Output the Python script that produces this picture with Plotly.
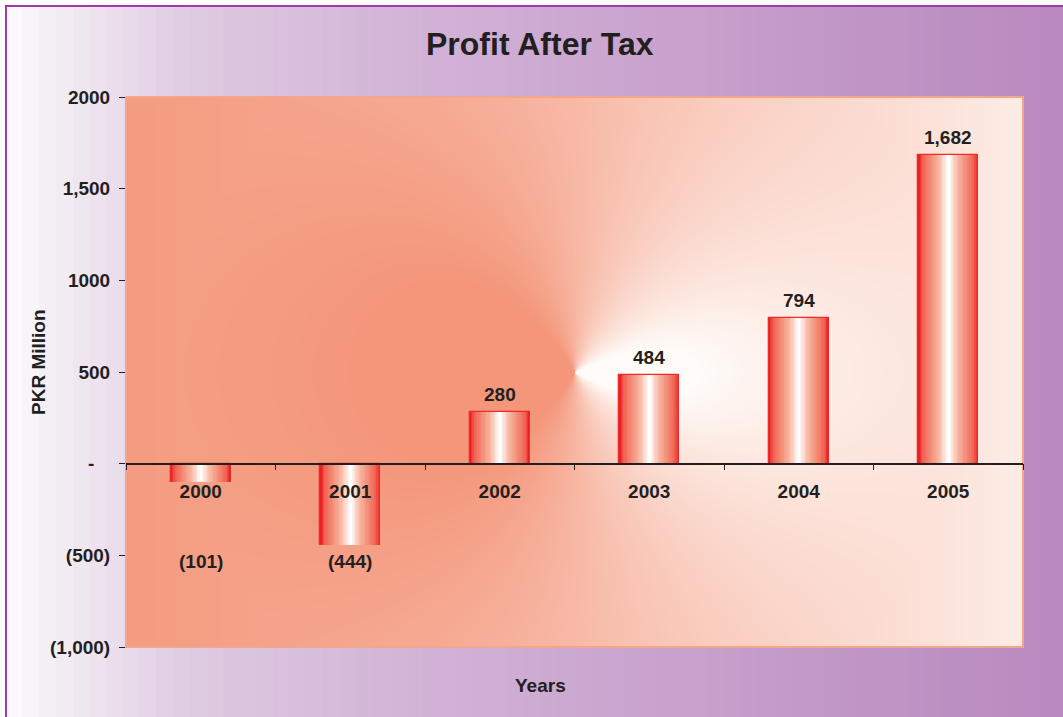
import base64
import struct
import zlib

import numpy as np
import plotly.graph_objects as go

# ---------------- data ----------------
years = ["2000", "2001", "2002", "2003", "2004", "2005"]
profit = [-101, -444, 280, 484, 794, 1682]
value_labels = ["(101)", "(444)", "280", "484", "794", "1,682"]
ytick_vals = [-1000, -500, 0, 500, 1000, 1500, 2000]
ytick_text = ["(1,000)", "(500)", "-\u00a0\u00a0\u00a0", "500", "1000", "1,500", "2000"]

# ---------------- geometry ----------------
W, H = 1063, 717
ML, MR, MT, MB = 126, 40, 97, 70
PW, PH = W - ML - MR, H - MT - MB
FONT = "Liberation Sans, Arial, Helvetica, sans-serif"
INK = "#231f20"


def png_uri(arr):
    arr = np.ascontiguousarray(arr.astype(np.uint8))
    h, w, _ = arr.shape
    a = arr.astype(np.int16)
    d = a.copy()
    d[:, 1:, :] = a[:, 1:, :] - a[:, :-1, :]
    d = (d % 256).astype(np.uint8).reshape(h, w * 3)
    rows = np.concatenate([np.ones((h, 1), np.uint8), d], axis=1)
    comp = zlib.compress(rows.tobytes(), 9)

    def chunk(t, data):
        return struct.pack(">I", len(data)) + t + data + struct.pack(">I", zlib.crc32(t + data) & 0xFFFFFFFF)

    png = (b"\x89PNG\r\n\x1a\n" + chunk(b"IHDR", struct.pack(">IIBBBBB", w, h, 8, 2, 0, 0, 0))
           + chunk(b"IDAT", comp) + chunk(b"IEND", b""))
    return "data:image/png;base64," + base64.b64encode(png).decode()


# ---- page background: stepped horizontal lilac gradient with frame line ----
kx = [7, 22, 38, 190, 400, 700, 1063]
kr = [252, 250, 246, 223, 211, 199, 185]
kg = [251, 249, 242, 203, 181, 160, 137]
kb = [252, 251, 247, 225, 216, 204, 191]
xs = np.arange(W, dtype=float)
xq = np.where(xs < 22, xs, 22 + np.floor((xs - 22) / 16.7) * 16.7 + 8)
row = np.stack([np.interp(xq, kx, kr), np.interp(xq, kx, kg), np.interp(xq, kx, kb)], axis=1)
bg = np.repeat(row[None, :, :], H, axis=0)
bg[:5, :, :] = 255
bg[:, :5, :] = 255
bg[5:7, 5:, :] = [163, 55, 173]
bg[5:, 5:7, :] = [163, 55, 173]
bg_uri = png_uri(np.clip(bg, 0, 255))

# ---- plot area background: salmon-to-white gradient, angular near the centre ----
yy, xx = np.mgrid[0:PH, 0:PW].astype(float)
dx = xx - PW / 2.0
dy = yy - PH / 2.0
r = np.hypot(dx, dy) + 1e-6
R = np.hypot(PW / 2.0, PH / 2.0)
a = (1 + dx / r) / 2.0
a = a ** 1.3
w_ang = 0.42 + (a - 0.5) * 1.2 + 0.15 * a ** 10
hx = 0.06 + 0.80 * (xx / PW) ** 1.3
b = np.clip(r / (0.75 * R), 0, 1) ** 1.2
w = np.clip((1 - b) * w_ang + b * hx, 0, 1)
S = np.array([244, 150, 122], float)
Wt = np.array([255, 251, 248], float)
pa = S[None, None, :] * (1 - w[..., None]) + Wt[None, None, :] * w[..., None]
pa_uri = png_uri(np.clip(pa, 0, 255))

fig = go.Figure()

# ---- bars: overlaid narrowing bars give the cylinder shading ----
N = 24
bar_w = 0.40
stops_t = [0.0, 0.12, 0.4, 0.7, 0.9, 1.0]
stops_c = np.array([[237, 30, 36], [240, 95, 80], [243, 140, 118],
                    [248, 185, 165], [253, 230, 222], [255, 255, 255]], float)
for i in range(N):
    t = i / (N - 1)
    c = [np.interp(t, stops_t, stops_c[:, j]) for j in range(3)]
    col = "rgb(%d,%d,%d)" % tuple(int(round(v)) for v in c)
    fig.add_trace(go.Bar(
        x=years, y=profit, width=bar_w * (1 - i / N),
        marker=dict(color=col, line=dict(color="#ee2a2a" if i == 0 else col, width=1.3 if i == 0 else 0)),
        hoverinfo="skip", showlegend=False,
    ))

# ---- value labels ----
for idx, (v, lab) in enumerate(zip(profit, value_labels)):
    if v >= 0:
        fig.add_annotation(x=idx, y=v, text=lab, showarrow=False, yanchor="bottom", yshift=5,
                           font=dict(family=FONT, size=19, color=INK, weight="bold"))
    else:
        fig.add_annotation(x=idx, y=-535, text=lab, showarrow=False, yanchor="middle",
                           font=dict(family=FONT, size=19, color=INK, weight="bold"))

# ---- titles ----
fig.add_annotation(xref="paper", yref="paper", x=(540 - ML) / PW, y=1 + (MT - 44) / PH,
                   text="Profit After Tax", showarrow=False, xanchor="center", yanchor="middle",
                   font=dict(family=FONT, size=32, color=INK, weight="bold"))
fig.add_annotation(xref="paper", yref="paper", x=(540 - ML) / PW, y=-(685 - MT - PH) / PH,
                   text="Years", showarrow=False, xanchor="center", yanchor="middle",
                   font=dict(family=FONT, size=19, color=INK, weight="bold"))
fig.add_annotation(xref="paper", yref="paper", x=(38 - ML) / PW, y=(MT + PH - 362) / PH,
                   text="PKR Million", showarrow=False, textangle=-90, xanchor="center", yanchor="middle",
                   font=dict(family=FONT, size=19, color=INK, weight="bold"))

fig.update_layout(
    width=W, height=H,
    margin=dict(l=ML, r=MR, t=MT, b=MB),
    paper_bgcolor="white",
    plot_bgcolor="rgba(0,0,0,0)",
    barmode="overlay",
    bargap=0,
    showlegend=False,
    images=[
        dict(source=bg_uri, xref="paper", yref="paper", x=-ML / PW, y=1 + MT / PH,
             sizex=W / PW, sizey=H / PH, xanchor="left", yanchor="top", sizing="stretch", layer="below"),
        dict(source=pa_uri, xref="paper", yref="paper", x=0, y=1, sizex=1, sizey=1,
             xanchor="left", yanchor="top", sizing="stretch", layer="below"),
    ],
    shapes=[dict(type="rect", xref="paper", yref="paper", x0=0, y0=0, x1=1, y1=1,
                 line=dict(color="#f4a68a", width=2), layer="below")],
    xaxis=dict(
        type="category", range=[-0.5, 5.5], anchor="free", position=1 / 3,
        showline=True, linecolor=INK, linewidth=1.5, showgrid=False, zeroline=False,
        ticks="outside", tickson="boundaries", ticklen=6, tickcolor=INK, tickwidth=1.2,
        ticklabelstandoff=11,
        tickfont=dict(family=FONT, size=19, color=INK, weight="bold"),
    ),
    yaxis=dict(
        range=[-1000, 2000], domain=[0, 1], tickvals=ytick_vals, ticktext=ytick_text,
        showgrid=False, zeroline=False, showline=False,
        ticks="outside", ticklen=6, tickcolor=INK, tickwidth=1.2, ticklabelstandoff=5,
        tickfont=dict(family=FONT, size=19, color=INK, weight="bold"),
    ),
)

fig.write_html("out.html", config={"displayModeBar": False},
               post_script="document.body.style.margin='0px';document.body.style.overflow='hidden';")
